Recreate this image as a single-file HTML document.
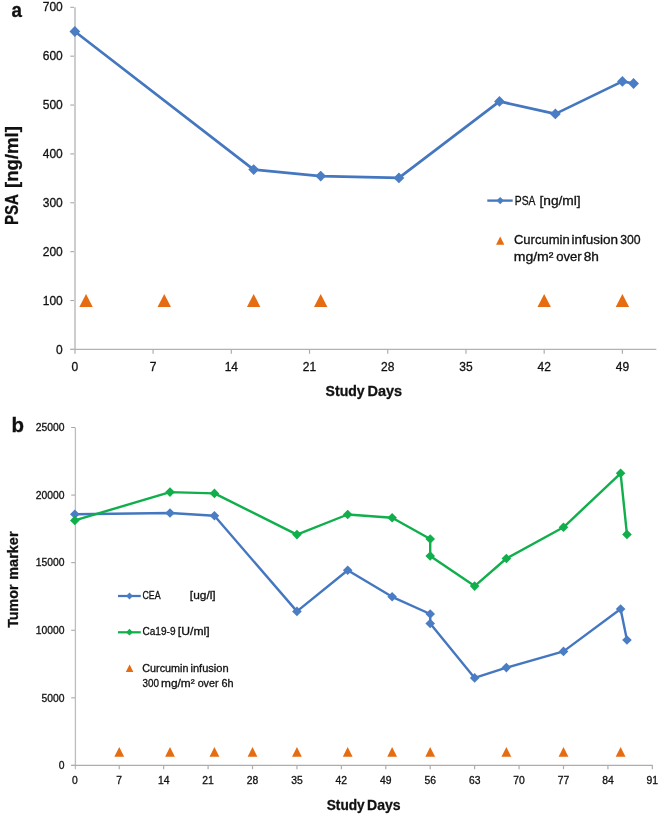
<!DOCTYPE html>
<html><head><meta charset="utf-8"><style>
html,body{margin:0;padding:0;background:#fff;}
body{width:661px;height:817px;overflow:hidden;}
svg{display:block;will-change:transform;}
text{font-family:"Liberation Sans",sans-serif;stroke:#111;stroke-width:0.3px;}
</style></head><body>
<svg width="661" height="817" viewBox="0 0 661 817">
<line x1="75.0" y1="7.3" x2="75.0" y2="353.8" stroke="#CDCDCD" stroke-width="2"/>
<line x1="70.3" y1="349.40" x2="74.0" y2="349.40" stroke="#A9A9A9" stroke-width="1.1"/>
<line x1="70.3" y1="300.53" x2="74.0" y2="300.53" stroke="#A9A9A9" stroke-width="1.1"/>
<line x1="70.3" y1="251.66" x2="74.0" y2="251.66" stroke="#A9A9A9" stroke-width="1.1"/>
<line x1="70.3" y1="202.79" x2="74.0" y2="202.79" stroke="#A9A9A9" stroke-width="1.1"/>
<line x1="70.3" y1="153.91" x2="74.0" y2="153.91" stroke="#A9A9A9" stroke-width="1.1"/>
<line x1="70.3" y1="105.04" x2="74.0" y2="105.04" stroke="#A9A9A9" stroke-width="1.1"/>
<line x1="70.3" y1="56.17" x2="74.0" y2="56.17" stroke="#A9A9A9" stroke-width="1.1"/>
<line x1="70.3" y1="7.30" x2="74.0" y2="7.30" stroke="#A9A9A9" stroke-width="1.1"/>
<line x1="70.3" y1="349.4" x2="656.3" y2="349.4" stroke="#B2B2B2" stroke-width="1.1"/>
<line x1="153.09" y1="349.4" x2="153.09" y2="353.8" stroke="#ADADAD" stroke-width="1.2"/>
<line x1="231.31" y1="349.4" x2="231.31" y2="353.8" stroke="#ADADAD" stroke-width="1.2"/>
<line x1="309.52" y1="349.4" x2="309.52" y2="353.8" stroke="#ADADAD" stroke-width="1.2"/>
<line x1="387.74" y1="349.4" x2="387.74" y2="353.8" stroke="#ADADAD" stroke-width="1.2"/>
<line x1="465.96" y1="349.4" x2="465.96" y2="353.8" stroke="#ADADAD" stroke-width="1.2"/>
<line x1="544.18" y1="349.4" x2="544.18" y2="353.8" stroke="#ADADAD" stroke-width="1.2"/>
<line x1="622.40" y1="349.4" x2="622.40" y2="353.8" stroke="#ADADAD" stroke-width="1.2"/>
<text x="62.80" y="353.50" font-size="12" fill="#111" text-anchor="end">0</text>
<text x="62.80" y="304.63" font-size="12" fill="#111" text-anchor="end">100</text>
<text x="62.80" y="255.76" font-size="12" fill="#111" text-anchor="end">200</text>
<text x="62.80" y="206.89" font-size="12" fill="#111" text-anchor="end">300</text>
<text x="62.80" y="158.01" font-size="12" fill="#111" text-anchor="end">400</text>
<text x="62.80" y="109.14" font-size="12" fill="#111" text-anchor="end">500</text>
<text x="62.80" y="60.27" font-size="12" fill="#111" text-anchor="end">600</text>
<text x="62.80" y="11.40" font-size="12" fill="#111" text-anchor="end">700</text>
<text x="74.87" y="370.90" font-size="12" fill="#111" text-anchor="middle">0</text>
<text x="153.09" y="370.90" font-size="12" fill="#111" text-anchor="middle">7</text>
<text x="231.31" y="370.90" font-size="12" fill="#111" text-anchor="middle">14</text>
<text x="309.52" y="370.90" font-size="12" fill="#111" text-anchor="middle">21</text>
<text x="387.74" y="370.90" font-size="12" fill="#111" text-anchor="middle">28</text>
<text x="465.96" y="370.90" font-size="12" fill="#111" text-anchor="middle">35</text>
<text x="544.18" y="370.90" font-size="12" fill="#111" text-anchor="middle">42</text>
<text x="622.40" y="370.90" font-size="12" fill="#111" text-anchor="middle">49</text>
<polyline points="74.87,31.5 253.654,169.6 320.698,176.1 398.916,177.9 499.48199999999997,101.4 555.352,113.9 622.396,81.4 633.5699999999999,83.5" fill="none" stroke="#4477C0" stroke-width="2.7" stroke-linejoin="round"/>
<path d="M69.47 31.50L74.87 26.10L80.27 31.50L74.87 36.90Z" fill="#4A7DC3"/>
<path d="M248.25 169.60L253.65 164.20L259.05 169.60L253.65 175.00Z" fill="#4A7DC3"/>
<path d="M315.30 176.10L320.70 170.70L326.10 176.10L320.70 181.50Z" fill="#4A7DC3"/>
<path d="M393.52 177.90L398.92 172.50L404.32 177.90L398.92 183.30Z" fill="#4A7DC3"/>
<path d="M494.08 101.40L499.48 96.00L504.88 101.40L499.48 106.80Z" fill="#4A7DC3"/>
<path d="M549.95 113.90L555.35 108.50L560.75 113.90L555.35 119.30Z" fill="#4A7DC3"/>
<path d="M617.00 81.40L622.40 76.00L627.80 81.40L622.40 86.80Z" fill="#4A7DC3"/>
<path d="M628.17 83.50L633.57 78.10L638.97 83.50L633.57 88.90Z" fill="#4A7DC3"/>
<path d="M79.34 306.90L86.04 293.90L92.74 306.90Z" fill="#E66C12"/>
<path d="M157.56 306.90L164.26 293.90L170.96 306.90Z" fill="#E66C12"/>
<path d="M246.95 306.90L253.65 293.90L260.35 306.90Z" fill="#E66C12"/>
<path d="M314.00 306.90L320.70 293.90L327.40 306.90Z" fill="#E66C12"/>
<path d="M537.48 306.90L544.18 293.90L550.88 306.90Z" fill="#E66C12"/>
<path d="M615.70 306.90L622.40 293.90L629.10 306.90Z" fill="#E66C12"/>
<line x1="487.3" y1="200.6" x2="512.7" y2="200.6" stroke="#4477C0" stroke-width="2.35"/>
<path d="M496.50 200.60L500.20 196.90L503.90 200.60L500.20 204.30Z" fill="#4A7DC3"/>
<path d="M496.10 244.70L500.20 236.60L504.30 244.70Z" fill="#E66C12"/>
<text x="514.76" y="204.60" font-size="12.3" fill="#111" textLength="20.69" lengthAdjust="spacingAndGlyphs">PSA</text>
<text x="539.45" y="204.60" font-size="12.3" fill="#111" textLength="41.26" lengthAdjust="spacingAndGlyphs">[ng/ml]</text>
<text x="513.96" y="243.90" font-size="12.3" fill="#111" textLength="55.76" lengthAdjust="spacingAndGlyphs">Curcumin</text>
<text x="571.52" y="243.90" font-size="12.3" fill="#111" textLength="46.55" lengthAdjust="spacingAndGlyphs">infusion</text>
<text x="620.25" y="243.90" font-size="12.3" fill="#111" textLength="20.42" lengthAdjust="spacingAndGlyphs">300</text>
<text x="513.69" y="260.80" font-size="12.3" fill="#111" textLength="39.79" lengthAdjust="spacingAndGlyphs">mg/m²</text>
<text x="556.17" y="260.80" font-size="12.3" fill="#111" textLength="25.42" lengthAdjust="spacingAndGlyphs">over</text>
<text x="583.79" y="260.80" font-size="12.3" fill="#111" textLength="15.18" lengthAdjust="spacingAndGlyphs">8h</text>
<text x="325.61" y="396.10" font-size="14.4" font-weight="bold" style="stroke-width:0.3px" fill="#111" textLength="39.04" lengthAdjust="spacingAndGlyphs">Study</text>
<text x="367.44" y="396.10" font-size="14.4" font-weight="bold" style="stroke-width:0.3px" fill="#111" textLength="34.69" lengthAdjust="spacingAndGlyphs">Days</text>
<text transform="translate(17.90,224.00) rotate(-90)" x="-1.02" y="0" font-size="17.7" font-weight="bold" style="stroke-width:0.3px" fill="#111" textLength="31.04" lengthAdjust="spacingAndGlyphs">PSA</text>
<text transform="translate(17.90,187.00) rotate(-90)" x="-1.05" y="0" font-size="17.7" font-weight="bold" style="stroke-width:0.3px" fill="#111" textLength="61.99" lengthAdjust="spacingAndGlyphs">[ng/ml]</text>
<text x="11.54" y="16.70" font-size="20" font-weight="bold" style="stroke-width:0.3px" fill="#111" textLength="10.44" lengthAdjust="spacingAndGlyphs">a</text>
<line x1="75.4" y1="427.5" x2="75.4" y2="769.2" stroke="#BDBDBD" stroke-width="1.3"/>
<line x1="71.2" y1="765.40" x2="75.0" y2="765.40" stroke="#A5A5A5" stroke-width="1.05"/>
<line x1="71.2" y1="697.82" x2="75.0" y2="697.82" stroke="#A5A5A5" stroke-width="1.05"/>
<line x1="71.2" y1="630.24" x2="75.0" y2="630.24" stroke="#A5A5A5" stroke-width="1.05"/>
<line x1="71.2" y1="562.66" x2="75.0" y2="562.66" stroke="#A5A5A5" stroke-width="1.05"/>
<line x1="71.2" y1="495.08" x2="75.0" y2="495.08" stroke="#A5A5A5" stroke-width="1.05"/>
<line x1="71.2" y1="427.50" x2="75.0" y2="427.50" stroke="#A5A5A5" stroke-width="1.05"/>
<line x1="71.2" y1="765.4" x2="652.8" y2="765.4" stroke="#ADADAD" stroke-width="1.2"/>
<line x1="119.24" y1="765.4" x2="119.24" y2="769.2" stroke="#ADADAD" stroke-width="1.2"/>
<line x1="163.66" y1="765.4" x2="163.66" y2="769.2" stroke="#ADADAD" stroke-width="1.2"/>
<line x1="208.09" y1="765.4" x2="208.09" y2="769.2" stroke="#ADADAD" stroke-width="1.2"/>
<line x1="252.51" y1="765.4" x2="252.51" y2="769.2" stroke="#ADADAD" stroke-width="1.2"/>
<line x1="296.94" y1="765.4" x2="296.94" y2="769.2" stroke="#ADADAD" stroke-width="1.2"/>
<line x1="341.36" y1="765.4" x2="341.36" y2="769.2" stroke="#ADADAD" stroke-width="1.2"/>
<line x1="385.79" y1="765.4" x2="385.79" y2="769.2" stroke="#ADADAD" stroke-width="1.2"/>
<line x1="430.21" y1="765.4" x2="430.21" y2="769.2" stroke="#ADADAD" stroke-width="1.2"/>
<line x1="474.64" y1="765.4" x2="474.64" y2="769.2" stroke="#ADADAD" stroke-width="1.2"/>
<line x1="519.07" y1="765.4" x2="519.07" y2="769.2" stroke="#ADADAD" stroke-width="1.2"/>
<line x1="563.49" y1="765.4" x2="563.49" y2="769.2" stroke="#ADADAD" stroke-width="1.2"/>
<line x1="607.92" y1="765.4" x2="607.92" y2="769.2" stroke="#ADADAD" stroke-width="1.2"/>
<line x1="652.34" y1="765.4" x2="652.34" y2="769.2" stroke="#ADADAD" stroke-width="1.2"/>
<text x="64.45" y="769.20" font-size="10.35" fill="#111" text-anchor="end">0</text>
<text x="64.45" y="701.62" font-size="10.35" fill="#111" text-anchor="end">5000</text>
<text x="64.45" y="634.04" font-size="10.35" fill="#111" text-anchor="end">10000</text>
<text x="64.45" y="566.46" font-size="10.35" fill="#111" text-anchor="end">15000</text>
<text x="64.45" y="498.88" font-size="10.35" fill="#111" text-anchor="end">20000</text>
<text x="64.45" y="431.30" font-size="10.35" fill="#111" text-anchor="end">25000</text>
<text x="74.81" y="784.10" font-size="10.35" fill="#111" text-anchor="middle">0</text>
<text x="119.24" y="784.10" font-size="10.35" fill="#111" text-anchor="middle">7</text>
<text x="163.66" y="784.10" font-size="10.35" fill="#111" text-anchor="middle">14</text>
<text x="208.09" y="784.10" font-size="10.35" fill="#111" text-anchor="middle">21</text>
<text x="252.51" y="784.10" font-size="10.35" fill="#111" text-anchor="middle">28</text>
<text x="296.94" y="784.10" font-size="10.35" fill="#111" text-anchor="middle">35</text>
<text x="341.36" y="784.10" font-size="10.35" fill="#111" text-anchor="middle">42</text>
<text x="385.79" y="784.10" font-size="10.35" fill="#111" text-anchor="middle">49</text>
<text x="430.21" y="784.10" font-size="10.35" fill="#111" text-anchor="middle">56</text>
<text x="474.64" y="784.10" font-size="10.35" fill="#111" text-anchor="middle">63</text>
<text x="519.07" y="784.10" font-size="10.35" fill="#111" text-anchor="middle">70</text>
<text x="563.49" y="784.10" font-size="10.35" fill="#111" text-anchor="middle">77</text>
<text x="607.92" y="784.10" font-size="10.35" fill="#111" text-anchor="middle">84</text>
<text x="652.34" y="784.10" font-size="10.35" fill="#111" text-anchor="middle">91</text>
<polyline points="74.81,514.3 170.0075,513.0 214.433,515.8 296.9375,611.4 347.7095,570.2 392.135,596.8 430.214,614.0 430.214,623.5 474.6395,677.9 506.372,667.6 563.4905,651.4 620.6089999999999,609.0 626.9555,640.0" fill="none" stroke="#4477C0" stroke-width="2.4" stroke-linejoin="round"/>
<path d="M70.01 514.30L74.81 509.50L79.61 514.30L74.81 519.10Z" fill="#4A7DC3"/>
<path d="M165.21 513.00L170.01 508.20L174.81 513.00L170.01 517.80Z" fill="#4A7DC3"/>
<path d="M209.63 515.80L214.43 511.00L219.23 515.80L214.43 520.60Z" fill="#4A7DC3"/>
<path d="M292.14 611.40L296.94 606.60L301.74 611.40L296.94 616.20Z" fill="#4A7DC3"/>
<path d="M342.91 570.20L347.71 565.40L352.51 570.20L347.71 575.00Z" fill="#4A7DC3"/>
<path d="M387.33 596.80L392.13 592.00L396.94 596.80L392.13 601.60Z" fill="#4A7DC3"/>
<path d="M425.41 614.00L430.21 609.20L435.01 614.00L430.21 618.80Z" fill="#4A7DC3"/>
<path d="M425.41 623.50L430.21 618.70L435.01 623.50L430.21 628.30Z" fill="#4A7DC3"/>
<path d="M469.84 677.90L474.64 673.10L479.44 677.90L474.64 682.70Z" fill="#4A7DC3"/>
<path d="M501.57 667.60L506.37 662.80L511.17 667.60L506.37 672.40Z" fill="#4A7DC3"/>
<path d="M558.69 651.40L563.49 646.60L568.29 651.40L563.49 656.20Z" fill="#4A7DC3"/>
<path d="M615.81 609.00L620.61 604.20L625.41 609.00L620.61 613.80Z" fill="#4A7DC3"/>
<path d="M622.16 640.00L626.96 635.20L631.76 640.00L626.96 644.80Z" fill="#4A7DC3"/>
<polyline points="74.81,520.4 170.0075,492.1 214.433,493.4 296.9375,534.6 347.7095,514.5 392.135,517.7 430.214,539.0 430.214,556.0 474.6395,586.1 506.372,558.5 563.4905,527.3 620.6089999999999,473.3 626.9555,534.4" fill="none" stroke="#11AE4C" stroke-width="2.4" stroke-linejoin="round"/>
<path d="M70.01 520.40L74.81 515.60L79.61 520.40L74.81 525.20Z" fill="#11AE4C"/>
<path d="M165.21 492.10L170.01 487.30L174.81 492.10L170.01 496.90Z" fill="#11AE4C"/>
<path d="M209.63 493.40L214.43 488.60L219.23 493.40L214.43 498.20Z" fill="#11AE4C"/>
<path d="M292.14 534.60L296.94 529.80L301.74 534.60L296.94 539.40Z" fill="#11AE4C"/>
<path d="M342.91 514.50L347.71 509.70L352.51 514.50L347.71 519.30Z" fill="#11AE4C"/>
<path d="M387.33 517.70L392.13 512.90L396.94 517.70L392.13 522.50Z" fill="#11AE4C"/>
<path d="M425.41 539.00L430.21 534.20L435.01 539.00L430.21 543.80Z" fill="#11AE4C"/>
<path d="M425.41 556.00L430.21 551.20L435.01 556.00L430.21 560.80Z" fill="#11AE4C"/>
<path d="M469.84 586.10L474.64 581.30L479.44 586.10L474.64 590.90Z" fill="#11AE4C"/>
<path d="M501.57 558.50L506.37 553.70L511.17 558.50L506.37 563.30Z" fill="#11AE4C"/>
<path d="M558.69 527.30L563.49 522.50L568.29 527.30L563.49 532.10Z" fill="#11AE4C"/>
<path d="M615.81 473.30L620.61 468.50L625.41 473.30L620.61 478.10Z" fill="#11AE4C"/>
<path d="M622.16 534.40L626.96 529.60L631.76 534.40L626.96 539.20Z" fill="#11AE4C"/>
<path d="M114.34 756.80L119.24 747.00L124.14 756.80Z" fill="#E66C12"/>
<path d="M165.11 756.80L170.01 747.00L174.91 756.80Z" fill="#E66C12"/>
<path d="M209.53 756.80L214.43 747.00L219.33 756.80Z" fill="#E66C12"/>
<path d="M247.61 756.80L252.51 747.00L257.41 756.80Z" fill="#E66C12"/>
<path d="M292.04 756.80L296.94 747.00L301.84 756.80Z" fill="#E66C12"/>
<path d="M342.81 756.80L347.71 747.00L352.61 756.80Z" fill="#E66C12"/>
<path d="M387.24 756.80L392.13 747.00L397.03 756.80Z" fill="#E66C12"/>
<path d="M425.31 756.80L430.21 747.00L435.11 756.80Z" fill="#E66C12"/>
<path d="M501.47 756.80L506.37 747.00L511.27 756.80Z" fill="#E66C12"/>
<path d="M558.59 756.80L563.49 747.00L568.39 756.80Z" fill="#E66C12"/>
<path d="M615.71 756.80L620.61 747.00L625.51 756.80Z" fill="#E66C12"/>
<line x1="118" y1="596" x2="140.8" y2="596" stroke="#4477C0" stroke-width="2.25"/>
<path d="M126.10 596.00L129.50 592.60L132.90 596.00L129.50 599.40Z" fill="#4A7DC3"/>
<line x1="118" y1="632.3" x2="140.8" y2="632.3" stroke="#11AE4C" stroke-width="2.25"/>
<path d="M126.10 632.20L129.50 628.80L132.90 632.20L129.50 635.60Z" fill="#11AE4C"/>
<path d="M125.80 672.00L129.60 664.40L133.40 672.00Z" fill="#E66C12"/>
<text x="142.50" y="598.90" font-size="10.75" fill="#111" textLength="18.15" lengthAdjust="spacingAndGlyphs">CEA</text>
<text x="189.87" y="598.90" font-size="10.75" fill="#111" textLength="25.77" lengthAdjust="spacingAndGlyphs">[ug/l]</text>
<text x="142.48" y="634.90" font-size="10.75" fill="#111" textLength="33.09" lengthAdjust="spacingAndGlyphs">Ca19-9</text>
<text x="177.85" y="634.90" font-size="10.75" fill="#111" textLength="31.76" lengthAdjust="spacingAndGlyphs">[U/ml]</text>
<text x="142.25" y="671.50" font-size="10.75" fill="#111" textLength="46.15" lengthAdjust="spacingAndGlyphs">Curcumin</text>
<text x="190.48" y="671.50" font-size="10.75" fill="#111" textLength="38.20" lengthAdjust="spacingAndGlyphs">infusion</text>
<text x="142.53" y="686.50" font-size="10.75" fill="#111" textLength="16.47" lengthAdjust="spacingAndGlyphs">300</text>
<text x="161.03" y="686.50" font-size="10.75" fill="#111" textLength="33.64" lengthAdjust="spacingAndGlyphs">mg/m²</text>
<text x="197.65" y="686.50" font-size="10.75" fill="#111" textLength="20.91" lengthAdjust="spacingAndGlyphs">over</text>
<text x="221.54" y="686.50" font-size="10.75" fill="#111" textLength="12.12" lengthAdjust="spacingAndGlyphs">6h</text>
<text x="326.72" y="810.20" font-size="14.5" font-weight="bold" style="stroke-width:0.3px" fill="#111" textLength="37.95" lengthAdjust="spacingAndGlyphs">Study</text>
<text x="367.08" y="810.20" font-size="14.5" font-weight="bold" style="stroke-width:0.3px" fill="#111" textLength="33.51" lengthAdjust="spacingAndGlyphs">Days</text>
<text transform="translate(17.80,627.70) rotate(-90)" x="-0.14" y="0" font-size="15.2" font-weight="bold" style="stroke-width:0.3px" fill="#111" textLength="43.34" lengthAdjust="spacingAndGlyphs">Tumor</text>
<text transform="translate(17.80,578.80) rotate(-90)" x="-0.95" y="0" font-size="15.2" font-weight="bold" style="stroke-width:0.3px" fill="#111" textLength="48.25" lengthAdjust="spacingAndGlyphs">marker</text>
<text x="11.47" y="431.80" font-size="19.6" font-weight="bold" style="stroke-width:0.3px" fill="#111" textLength="12.48" lengthAdjust="spacingAndGlyphs">b</text>
</svg>
</body></html>
